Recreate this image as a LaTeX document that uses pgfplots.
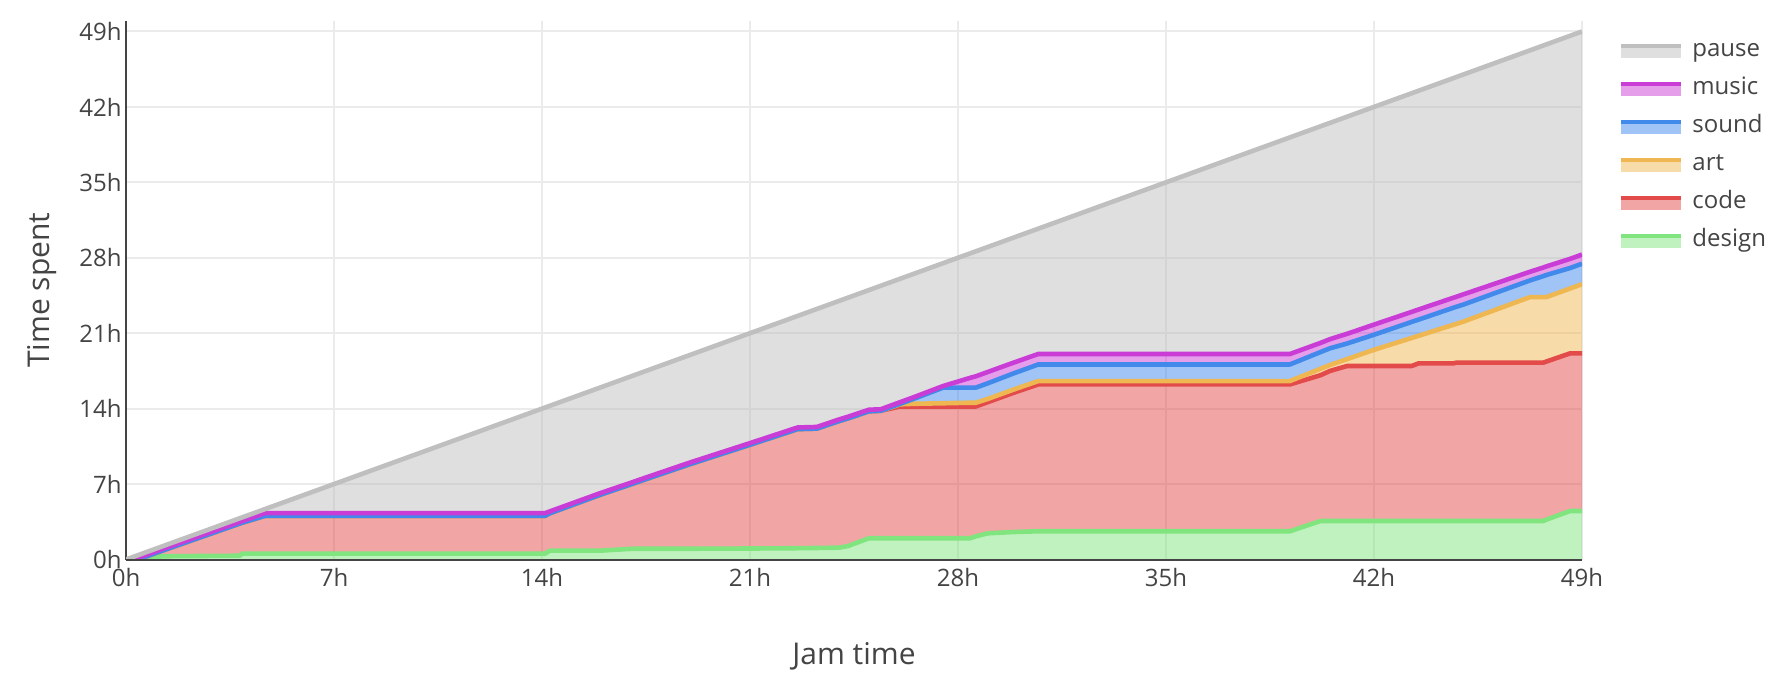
\documentclass[border=0pt]{standalone}
\usepackage{pgfplots}
\pgfplotsset{compat=1.18}
\usepackage{pgfplotstable}
\usepgfplotslibrary{fillbetween}
\usepackage{fontspec}
\setmainfont{Open Sans}

\definecolor{txt}{HTML}{444444}
\definecolor{gridc}{HTML}{EBEBEB}
\definecolor{pausec}{HTML}{BFBFBF}
\definecolor{musicc}{HTML}{C93DD6}
\definecolor{soundc}{HTML}{4189EB}
\definecolor{artc}{HTML}{EFB751}
\definecolor{codec}{HTML}{E34B4B}
\definecolor{designc}{HTML}{81E57F}

% cumulative top of each stacked layer, in hours
\pgfplotstableread{
t     design code  art   sound music total
0     0      0     0     0     0     0
0.3   0      0     0     0     0.1   0.3
0.7   0.05   0.3   0.3   0.3   0.45  0.7
1.2   0.3    0.8   0.8   0.8   0.95  1.2
3.84  0.35   3.35  3.35  3.35  3.5   3.84
3.9   0.54   3.41  3.41  3.41  3.56  3.9
4.68  0.54   4.05  4.05  4.05  4.3   4.68
14.1  0.54   4.05  4.05  4.05  4.3   14.1
14.27 0.82   4.3   4.3   4.3   4.47  14.27
15.95 0.82   6.0   6.0   6.0   6.15  15.95
17.07 1.0    7.05  7.05  7.05  7.2   17.07
17.36 1.0    7.33  7.33  7.33  7.48  17.36
18.98 1.0    8.85  8.85  8.85  9.0   18.98
21.0  1.02   10.65 10.65 10.65 10.8  21.0
22.6  1.05   12.1  12.1  12.1  12.25 22.6
23.25 1.07   12.15 12.15 12.15 12.3  23.25
24.0  1.1    12.85 12.85 12.85 13.0  24.0
24.3  1.25   13.1  13.1  13.1  13.25 24.3
25.0  1.97   13.75 13.75 13.75 13.9  25.0
25.4  1.97   13.8  13.8  13.8  13.94 25.4
26.05 1.97   14.2  14.4  14.45 14.6  26.05
26.5  1.97   14.2  14.45 14.9  15.05 26.5
27.5  1.97   14.2  14.5  15.95 16.1  27.5
28.4  1.97   14.2  14.55 15.95 16.85 28.4
28.6  2.15   14.2  14.55 15.95 17.0  28.6
29.0  2.43   14.6  14.9  16.35 17.4  29.0
29.85 2.55   15.45 15.75 17.25 18.25 29.85
30.7  2.62   16.25 16.56 18.1  19.07 30.7
39.17 2.62   16.25 16.56 18.1  19.07 39.17
40.2  3.57   17.1  17.7  19.25 20.1  40.2
40.52 3.57   17.5  18.05 19.6  20.45 40.52
41.1  3.57   17.96 18.6  20.05 20.95 41.1
41.98 3.57   17.96 19.44 20.84 21.78 41.98
43.27 3.57   17.96 20.56 22.05 22.98 43.27
43.5  3.57   18.2  20.76 22.26 23.2  43.5
44.67 3.57   18.2  21.78 23.36 24.29 44.67
44.78 3.57   18.27 21.87 23.46 24.39 44.78
45.0  3.57   18.27 22.07 23.65 24.6  45.0
47.25 3.57   18.27 24.35 25.9  26.7  47.25
47.7  3.57   18.27 24.35 26.3  27.1  47.7
47.8  3.7    18.37 24.35 26.4  27.2  47.8
48.6  4.5    19.13 25.15 27.05 27.9  48.6
49    4.5    19.13 25.55 27.45 28.3  49
}\jam

\begin{document}
\begin{tikzpicture}
\path (0,0) rectangle (893pt,346pt);
\begin{axis}[
  set layers,
  at={(63pt,66.25pt)}, anchor=south west,
  scale only axis, width=728pt, height=269.4pt,
  xmin=0, xmax=49, ymin=0, ymax=50,
  axis x line*=bottom, axis y line*=left,
  axis line style={txt, line width=1pt, -},
  xtick={0,7,...,49}, ytick={0,7,...,49},
  xticklabels={0h,7h,14h,21h,28h,35h,42h,49h},
  yticklabels={0h,7h,14h,21h,28h,35h,42h,49h},
  major tick length=0pt,
  grid=major, major grid style={gridc, line width=1pt},
  tick label style={font=\fontsize{12}{14}\selectfont, text=txt, inner sep=0pt},
  xticklabel style={anchor=north, yshift=-4.4pt},
  yticklabel style={anchor=east, xshift=-2pt},
  xlabel={Jam time}, ylabel={Time spent},
  label style={font=\fontsize{15}{18}\selectfont, text=txt},
  xlabel style={at={(axis description cs:0.5,-0.194)}, anchor=base},
  ylabel style={at={(axis description cs:-0.0522,0.5)}, anchor=base},
  legend style={at={(axis description cs:1,1)}, anchor=north west,
    xshift=19.5pt, yshift=-9pt, draw=none, fill=none, inner sep=0pt,
    font=\fontsize{12}{14}\selectfont, text=txt, row sep=7pt,
    nodes={inner sep=0pt, text height=8.8pt, text depth=3.2pt},
    /tikz/every odd column/.append style={column sep=5.5pt}},
  legend cell align=left,
  legend image code/.code={
    \fill[#1, draw=none, fill opacity=0.5] (0pt,-3.35pt) rectangle (30pt,1.65pt);
    \fill[#1, draw=none] (0pt,1.65pt) rectangle (30pt,3.35pt);
  },
]
% lines, bottom layer first
\addplot[forget plot, designc, line width=2.3pt, line join=round, name path=d] table[x=t, y=design]{\jam};
\addplot[forget plot, codec,   line width=2.3pt, line join=round, name path=c] table[x=t, y=code]{\jam};
\addplot[forget plot, artc,    line width=2.3pt, line join=round, name path=a] table[x=t, y=art]{\jam};
\addplot[forget plot, soundc,  line width=2.3pt, line join=round, name path=s] table[x=t, y=sound]{\jam};
\addplot[forget plot, musicc,  line width=2.3pt, line join=round, name path=m] table[x=t, y=music]{\jam};
\addplot[forget plot, pausec,  line width=2.3pt, line join=round, name path=p] table[x=t, y=total]{\jam};
\addplot[forget plot, draw=none, name path=z] coordinates {(0,0) (49,0)};

% areas between consecutive layers
\addplot[forget plot, fill=designc, fill opacity=0.5] fill between[of=z and d];
\addplot[forget plot, fill=codec,   fill opacity=0.5] fill between[of=d and c];
\addplot[forget plot, fill=artc,    fill opacity=0.5] fill between[of=c and a];
\addplot[forget plot, fill=soundc,  fill opacity=0.5] fill between[of=a and s];
\addplot[forget plot, fill=musicc,  fill opacity=0.5] fill between[of=s and m];
\addplot[forget plot, fill=pausec,  fill opacity=0.5] fill between[of=m and p];

% x axis line again, above the fills
\addplot[forget plot, txt, line width=1pt] coordinates {(0,0) (49,0)};

\addlegendimage{pausec}\addlegendentry{pause}
\addlegendimage{musicc}\addlegendentry{music}
\addlegendimage{soundc}\addlegendentry{sound}
\addlegendimage{artc}\addlegendentry{art}
\addlegendimage{codec}\addlegendentry{code}
\addlegendimage{designc}\addlegendentry{design}
\end{axis}
\end{tikzpicture}
\end{document}
